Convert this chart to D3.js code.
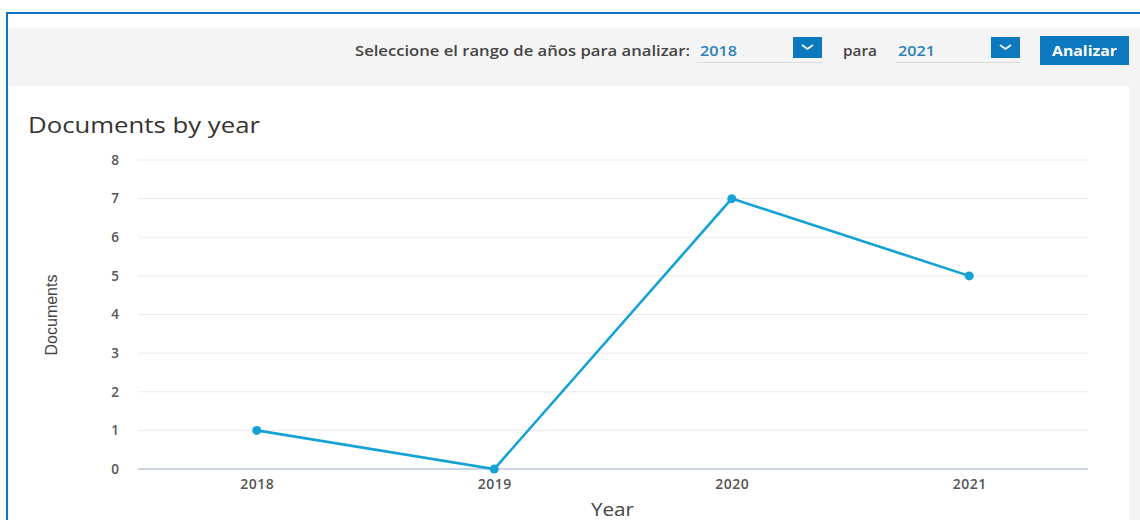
<!DOCTYPE html>
<html><head><meta charset="utf-8">
<script src="https://cdn.jsdelivr.net/npm/d3@7"></script>
<style>html,body{margin:0;padding:0;background:#fff;}svg{display:block;}</style>
</head><body>
<svg id="c" width="1140" height="520"></svg>
<script>
const years = ["2018", "2019", "2020", "2021"];
const documents = [1, 0, 7, 5];
const yTicks = [0, 1, 2, 3, 4, 5, 6, 7, 8];
const headerLabel = "Seleccione el rango de años para analizar:";
const fromYear = "2018";
const toYear = "2021";

const svg = d3.select("#c");
const W = 1140, H = 520;
const font = "'Open Sans', Lato, sans-serif";

// background frame
svg.append("rect").attr("x",0).attr("y",0).attr("width",W).attr("height",H).attr("fill","#fff");
svg.append("rect").attr("x",8).attr("y",28).attr("width",W-8).attr("height",H-28).attr("fill","#f4f4f4");
svg.append("rect").attr("x",9).attr("y",86).attr("width",1120).attr("height",H-86).attr("fill","#fff");
svg.append("line").attr("x1",7).attr("x2",W).attr("y1",13).attr("y2",13).attr("stroke","#0f72c4").attr("stroke-width",2);
svg.append("line").attr("x1",7).attr("x2",7).attr("y1",12).attr("y2",H).attr("stroke","#0f72c4").attr("stroke-width",2);

function txt(x0, y0, s, size, weight, color, len, anchor){
  const t = svg.append("text").attr("x",x0).attr("y",y0).attr("font-family",font)
    .attr("font-size",size).attr("font-weight",weight).attr("fill",color).text(s);
  if (anchor) t.attr("text-anchor",anchor);
  if (len) t.attr("textLength",len).attr("lengthAdjust","spacingAndGlyphs");
  return t;
}

// header controls
txt(355, 56, headerLabel, 15, 600, "#444", 335);
function dropdown(x0, label){
  txt(x0+3, 56, label, 14.5, 600, "#2f80b5", 37);
  svg.append("line").attr("x1",x0).attr("x2",x0+125).attr("y1",62.5).attr("y2",62.5).attr("stroke","#dcdcdc").attr("stroke-width",1);
  svg.append("rect").attr("x",x0+96).attr("y",37).attr("width",29).attr("height",21).attr("fill","#0c78bd");
  svg.append("path").attr("d",`M${x0+105},${45} L${x0+110.5},${49} L${x0+116},${45}`)
    .attr("fill","none").attr("stroke","#fff").attr("stroke-width",1.6);
}
dropdown(697, fromYear);
txt(843, 56, "para", 15, 600, "#444", 34);
dropdown(895, toYear);
svg.append("rect").attr("x",1040).attr("y",36).attr("width",89).attr("height",29).attr("fill","#0c78bd");
txt(1052, 56, "Analizar", 15, 700, "#fff", 65);

// title
txt(28, 133, "Documents by year", 22.5, 400, "#333", 232);

// scales
const x = d3.scalePoint().domain(years).range([138,1088]).padding(0.5);
const y = d3.scaleLinear().domain([0,8]).range([469,160]);

// gridlines
svg.append("g").selectAll("line").data(yTicks.filter(d=>d>0)).enter().append("line")
  .attr("x1",138).attr("x2",1088).attr("y1",d=>y(d)).attr("y2",d=>y(d))
  .attr("stroke","#ebebeb").attr("stroke-width",1);

// y axis
const yAxis = d3.axisLeft(y).tickValues(yTicks).tickSize(0).tickPadding(0).tickFormat(d3.format("d"));
const ya = svg.append("g").attr("transform","translate(119,0)").call(yAxis);
ya.select(".domain").remove();
ya.selectAll("text").attr("font-family",font).attr("font-size",13.5).attr("font-weight",600).attr("fill","#555");

// x axis
const xAxis = d3.axisBottom(x).tickSize(0).tickPadding(10);
const xa = svg.append("g").attr("transform",`translate(0,${y(0)})`).call(xAxis);
xa.select(".domain").attr("stroke","#ccd3e3").attr("stroke-width",2).attr("d","M138,0H1088");
xa.selectAll("text").attr("font-family",font).attr("font-size",14).attr("font-weight",600)
  .attr("fill","#555").attr("letter-spacing",0.5);

// axis titles
svg.append("text").attr("transform","translate(57,315) rotate(-90)").attr("text-anchor","middle")
  .attr("font-family","'Liberation Sans', Arial, sans-serif").attr("font-size",16).attr("fill","#444").text("Documents");
txt(591, 516, "Year", 18, 400, "#444", 43);

// line
const pts = years.map((yr,i)=>({yr, v:documents[i]}));
svg.append("path").datum(pts)
  .attr("d", d3.line().x(d=>x(d.yr)).y(d=>y(d.v)))
  .attr("fill","none").attr("stroke","#14a2d6").attr("stroke-width",2.6);
svg.selectAll("circle.pt").data(pts).enter().append("circle")
  .attr("cx",d=>x(d.yr)).attr("cy",d=>y(d.v)).attr("r",4.5).attr("fill","#14a2d6");
</script>
</body></html>
